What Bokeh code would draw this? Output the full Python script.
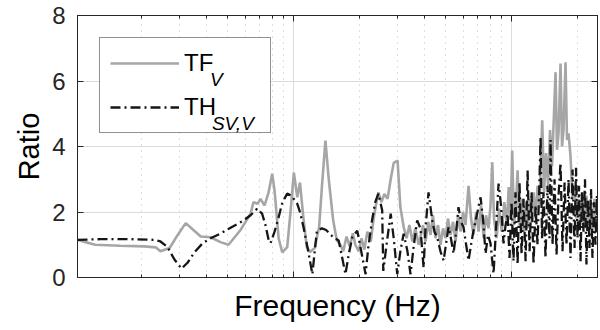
from bokeh.plotting import figure
from bokeh.models import FixedTicker, LogAxis, LinearAxis, Legend, LegendItem, Label, BoxAnnotation
from bokeh.embed import file_html
from bokeh.resources import INLINE

# ---------------- data ----------------
freq_tf = [1.02, 1.11, 1.23, 1.60, 2.07, 2.33, 2.45, 2.70, 2.94, 3.20,
           3.47, 3.75, 4.16, 4.62, 5.03, 5.71, 6.35, 6.55, 6.83, 7.05,
           7.36, 7.68, 7.98, 8.18, 8.54, 8.87, 9.35, 9.68, 10.03, 10.4,
           10.7, 11.1, 11.5, 11.9, 12.5, 13.1, 13.5, 14.0, 14.5, 15.2,
           15.8, 16.4, 16.9, 17.5, 18.1, 18.7, 19.2, 19.9, 20.5, 21.1,
           21.8, 22.6, 23.3, 24.0, 24.5, 25.3, 26.1, 27.0, 27.9, 28.8,
           30.0, 30.9, 32.0, 33.0, 34.0, 35.1, 36.2, 37.5,
           39.3, 40.3, 41.5, 42.5, 43.6, 44.8, 46.0, 47.2, 48.5, 49.8,
           51.1, 52.5, 53.9, 55.4, 56.9, 58.4, 59.9, 61.5, 63.5, 65.2,
           66.9, 68.8, 70.6, 72.5, 74.5, 76.4, 78.4, 80.1, 81.6, 83.1,
           85.4, 87.7, 90.2, 92.7, 95.2, 97.1, 99.0, 100.7, 102.6, 104.8,
           106.6, 108.8, 111.2, 113.5, 116.0, 118.5, 121.0, 123.6, 126.2, 128.9,
           131.6, 134.4, 138.3, 141.0, 144.0, 147.2, 150.2, 153.4, 155.8, 159.2,
           161.7, 164.3, 167.8, 170.5, 173.2, 176.9, 179.7, 182.6, 186.5, 190.5,
           194.6, 198.6, 202.9, 207.3, 211.8, 216.3, 220.7, 225.5, 230.4, 235.1,
           240.2, 245.2, 248.0]
ratio_tf = [1.15, 1.08, 1.00, 0.97, 0.95, 0.92, 0.80, 0.90, 1.30, 1.66,
            1.45, 1.25, 1.23, 1.08, 1.00, 1.45, 1.95, 2.30, 2.25, 2.40,
            2.20, 2.60, 3.17, 2.65, 1.20, 0.77, 0.93, 2.00, 3.20, 2.45,
            2.90, 1.80, 0.93, 0.78, 0.90, 1.54, 2.80, 4.18, 3.00, 1.74,
            1.13, 1.00, 0.80, 1.25, 0.95, 1.35, 1.00, 0.80, 1.20, 0.85,
            1.40, 1.10, 1.80, 2.30, 2.60, 2.30, 2.55, 2.40, 3.00, 3.50,
            3.57, 2.15, 1.54, 1.20, 1.60, 1.10, 1.50, 1.00,
            1.60, 1.10, 1.70, 1.30, 1.90, 1.20, 1.60, 1.00, 1.50, 1.20,
            1.80, 1.30, 1.70, 1.10, 1.90, 1.40, 2.00, 1.60, 2.80, 1.80,
            1.30, 2.00, 1.40, 2.20, 1.20, 1.90, 1.50, 2.20, 3.52, 1.80,
            1.20, 2.10, 1.40, 2.30, 1.60, 2.76, 1.80, 3.88, 1.60, 2.20,
            3.27, 1.60, 2.40, 1.40, 2.30, 1.50, 2.40, 1.70, 2.60, 1.80,
            2.80, 2.20, 4.80, 2.60, 3.80, 2.80, 4.50, 3.40, 4.60, 6.27,
            3.90, 4.40, 6.53, 4.00, 4.50, 6.57, 4.20, 4.40, 3.70, 2.40,
            2.80, 1.80, 2.40, 1.60, 2.60, 1.50, 2.50, 1.60, 2.30, 1.40,
            2.40, 1.50, 1.80]

freq_th = [1.02, 1.30, 1.79, 2.30, 2.45, 2.64, 2.84, 3.06, 3.26, 3.51,
           3.82, 4.16, 4.62, 5.24, 5.89, 6.35, 6.80, 7.17, 7.43, 7.68,
           7.84, 8.18, 8.54, 8.89, 9.35, 9.78, 10.4, 10.7, 11.1, 11.6,
           12.2, 12.5, 12.8, 13.5, 14.1, 15.2, 16.1, 16.6, 17.3, 17.9,
           18.6, 19.6, 20.3, 21.4, 22.0, 22.9, 23.7, 24.5, 25.5, 25.8,
           26.7, 27.9, 28.8, 29.9, 30.9, 32.0, 33.3, 34.4, 35.5, 36.9,
           38.2, 39.5, 40.3, 41.6, 43.3, 44.3, 45.6, 47.2, 48.8, 50.0,
           51.4, 52.7, 54.2, 55.7, 57.1, 58.7, 60.2, 61.9, 63.5, 65.2,
           66.9, 69.3, 72.1, 74.0, 76.0, 78.0, 80.1, 82.7, 84.9, 87.2,
           89.5, 91.9, 93.9, 95.9, 97.9, 100.0, 102.1, 104.3, 106.6, 108.8,
           111.2, 113.5, 116.0, 118.5, 121.0, 123.6, 126.2, 128.9, 131.6, 134.4,
           135.9, 138.0, 140.2, 143.2, 146.2, 149.4, 151.0, 154.2, 157.5, 160.9,
           164.3, 167.8, 171.4, 175.1, 178.8, 182.6, 186.5, 190.5, 194.6, 197.6,
           200.8, 204.0, 207.3, 210.5, 213.9, 217.3, 220.7, 224.2, 227.8, 231.6,
           235.1, 239.0, 242.6, 246.4, 248.0]
ratio_th = [1.15, 1.17, 1.17, 1.15, 1.10, 0.93, 0.55, 0.27, 0.45, 0.77,
            1.04, 1.20, 1.34, 1.55, 1.74, 1.90, 2.10, 1.95, 1.60, 1.15,
            1.05, 1.40, 1.84, 2.30, 2.56, 2.50, 2.25, 2.00, 1.54, 0.90,
            0.10, 0.80, 1.43, 1.50, 1.45, 1.23, 1.13, 0.70, 0.10, 0.70,
            1.23, 1.43, 0.90, 0.10, 0.90, 1.74, 2.30, 2.56, 2.05, 0.20,
            1.00, 1.95, 1.20, 0.10, 0.80, 1.34, 0.80, 0.10, 0.90, 1.74,
            1.50, 0.30, 1.50, 2.60, 1.74, 1.40, 1.23, 0.80, 0.52, 1.00,
            1.54, 1.20, 0.73, 1.40, 2.15, 1.70, 1.54, 1.00, 0.52, 1.00,
            1.43, 1.90, 2.45, 1.80, 0.73, 1.30, 1.04, 0.12, 1.50, 2.87,
            2.20, 1.04, 1.60, 1.95, 0.60, 2.30, 0.50, 2.60, 0.40, 2.90,
            0.70, 2.40, 0.50, 3.27, 0.80, 2.60, 0.40, 2.20, 1.00, 3.00,
            4.30, 1.20, 2.60, 0.60, 2.80, 1.20, 4.20, 1.00, 3.00, 0.70,
            2.50, 3.50, 0.80, 2.90, 1.00, 3.00, 0.60, 3.30, 0.90, 3.35,
            1.20, 2.80, 0.50, 2.60, 1.40, 3.00, 0.40, 2.40, 0.90, 2.70,
            0.60, 2.30, 1.00, 2.50, 1.50]

y_ticks = [0, 2, 4, 6, 8]
x_major = [10, 100]
x_minor = [2, 3, 4, 5, 6, 7, 8, 9, 20, 30, 40, 50, 60, 70, 80, 90, 200]

FONT = "Liberation Sans"
AX = "#262626"

p = figure(width=600, height=330, x_axis_type="log",
           x_range=(1.02, 248), y_range=(0, 8),
           output_backend="svg", toolbar_location=None,
           min_border_left=77, min_border_right=3,
           min_border_top=15, min_border_bottom=53)
p.background_fill_color = "white"
p.border_fill_color = "white"
p.outline_line_color = AX

xt = FixedTicker(ticks=x_major, minor_ticks=x_minor)
yt = FixedTicker(ticks=y_ticks)

p.xaxis.ticker = xt
p.yaxis.ticker = yt

# grids
p.xgrid.grid_line_color = "#dcdcdc"
p.xgrid.minor_grid_line_color = "#bdbdbd"
p.xgrid.minor_grid_line_dash = "1 5"
p.ygrid.grid_line_color = "#dcdcdc"

def style_axis(ax, labels=True):
    ax.axis_line_color = AX
    ax.major_tick_line_color = AX
    ax.minor_tick_line_color = AX
    ax.major_tick_in = 6
    ax.major_tick_out = 0
    ax.minor_tick_in = 3
    ax.minor_tick_out = 0
    ax.major_label_text_font = FONT
    ax.major_label_text_color = AX
    if not labels:
        ax.major_label_text_font_size = "1px"
        ax.major_label_text_color = None
        ax.major_label_standoff = 0

style_axis(p.xaxis[0], labels=False)
p.xaxis.axis_label = "Frequency (Hz)"
p.xaxis.axis_label_text_font = FONT
p.xaxis.axis_label_text_font_size = "30px"
p.xaxis.axis_label_text_font_style = "normal"
p.xaxis.axis_label_text_color = "black"
p.xaxis.axis_label_standoff = 11

style_axis(p.yaxis[0])
p.yaxis.minor_tick_line_color = None
p.yaxis.major_label_text_font_size = "24px"
p.yaxis.major_label_standoff = 12
p.yaxis.axis_label = "Ratio"
p.yaxis.axis_label_text_font = FONT
p.yaxis.axis_label_text_font_size = "29px"
p.yaxis.axis_label_text_font_style = "normal"
p.yaxis.axis_label_text_color = "black"
p.yaxis.axis_label_standoff = 4

top = LogAxis(ticker=xt)
style_axis(top, labels=False)
p.add_layout(top, "above")
right = LinearAxis(ticker=yt)
style_axis(right, labels=False)
right.minor_tick_line_color = None
p.add_layout(right, "right")

# white backing for the legend box, so the grid does not show through it
legend_bg = BoxAnnotation(left=1.29, right=7.84, bottom=4.43, top=7.33,
                          fill_color="white", fill_alpha=1.0, line_color=None,
                          level="underlay")
p.add_layout(legend_bg)

r1 = p.line(freq_tf, ratio_tf, line_color="#a6a6a6", line_width=2.6)
r2 = p.line(freq_th, ratio_th, line_color="#161616", line_width=2.3,
            line_dash="10 4 2 4")

legend = Legend(items=[LegendItem(label="TF", renderers=[r1]),
                       LegendItem(label="TH", renderers=[r2])],
                location="top_left", margin=22, padding=10, spacing=14,
                glyph_width=69, glyph_height=30, label_height=30,
                label_width=76, label_standoff=5,
                label_text_font=FONT, label_text_font_size="24px",
                label_text_color="black",
                border_line_color=AX, border_line_width=1,
                background_fill_alpha=0.0)
p.add_layout(legend)

sub1 = Label(x=4.14, y=6.05, text="V", text_font=FONT, text_font_size="19px",
             text_font_style="italic", text_color="black",
             text_baseline="alphabetic", text_align="left")
sub2 = Label(x=4.22, y=4.70, text="SV,V", text_font=FONT, text_font_size="19px",
             text_font_style="italic", text_color="black",
             text_baseline="alphabetic", text_align="left")
p.add_layout(sub1)
p.add_layout(sub2)

open("out.html", "w").write(file_html(p, INLINE))
